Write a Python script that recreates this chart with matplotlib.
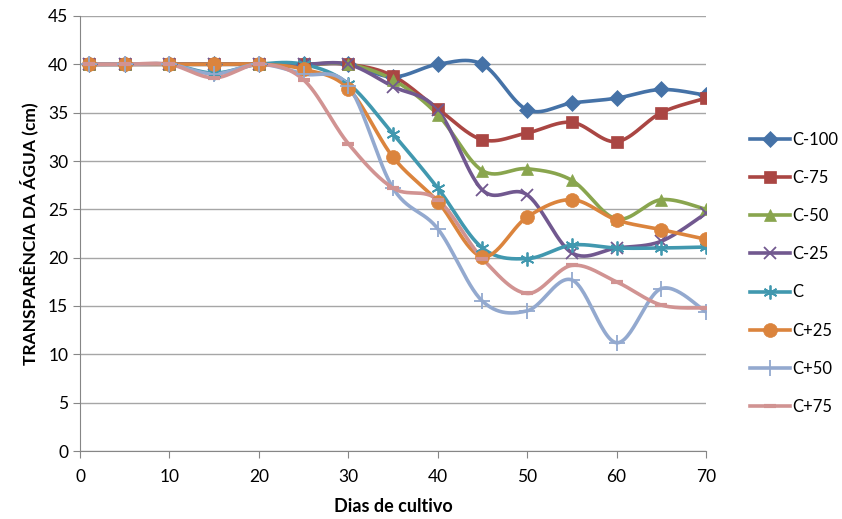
import numpy as np
import matplotlib.pyplot as plt
from matplotlib.lines import Line2D

plt.rcParams['font.family'] = ['Lato', 'DejaVu Sans']

dias = [1, 5, 10, 15, 20, 25, 30, 35, 40, 45, 50, 55, 60, 65, 70]

c_m100 = [40, 40, 40, 40, 40, 40, 40, 38.7, 40.0, 40.0, 35.3, 36.0, 36.5, 37.4, 36.8]
c_m75 = [40, 40, 40, 40, 40, 40, 40, 38.8, 35.4, 32.2, 32.9, 34.0, 32.0, 35.0, 36.5]
c_m50 = [40, 40, 40, 40, 40, 40, 40, 38.4, 34.8, 29.0, 29.2, 28.0, 24.0, 26.0, 25.0]
c_m25 = [40, 40, 40, 40, 40, 40, 40, 37.7, 35.3, 27.0, 26.5, 20.5, 21.0, 21.7, 24.6]
c_0 = [40, 40, 40, 39.1, 40, 40, 38.0, 32.8, 27.2, 21.0, 19.9, 21.3, 21.0, 21.0, 21.1]
c_p25 = [40, 40, 40, 40, 40, 39.5, 37.5, 30.4, 25.8, 20.1, 24.2, 26.0, 23.9, 22.9, 21.9]
c_p50 = [40, 40, 40, 39.0, 40, 39.0, 37.8, 27.2, 23.0, 15.5, 14.5, 17.7, 11.2, 16.8, 14.4]
c_p75 = [40, 40, 40, 38.6, 40, 38.4, 31.8, 27.2, 26.0, 19.9, 16.3, 19.2, 17.5, 15.1, 14.8]

nomes = ['C-100', 'C-75', 'C-50', 'C-25', 'C', 'C+25', 'C+50', 'C+75']
series = [c_m100, c_m75, c_m50, c_m25, c_0, c_p25, c_p50, c_p75]
cores = ['#4572A7', '#AA4643', '#89A54E', '#71588F', '#4198AF', '#DB843D', '#93A9CF', '#D19392']
asterisco = (6, 2, 0)
marcadores = ['D', 's', '^', 'x', asterisco, 'o', '+', '_']
tamanhos = [8, 9, 9, 9, 10, 10, 11, 9]


def suaviza(x, y, n=30):
    # curva Catmull-Rom passando pelos pontos (como a linha suavizada do Excel)
    p = np.column_stack([x, y]).astype(float)
    p = np.vstack([p[0], p, p[-1]])
    out = []
    t = np.linspace(0, 1, n)[:, None]
    for i in range(1, len(p) - 2):
        p0, p1, p2, p3 = p[i - 1], p[i], p[i + 1], p[i + 2]
        c1 = p1 + (p2 - p0) / 6
        c2 = p2 - (p3 - p1) / 6
        seg = ((1 - t) ** 3) * p1 + 3 * ((1 - t) ** 2) * t * c1 + 3 * (1 - t) * t ** 2 * c2 + t ** 3 * p2
        out.append(seg if i == 1 else seg[1:])
    out = np.vstack(out)
    return out[:, 0], out[:, 1]


fig = plt.figure(figsize=(8.42, 5.19), dpi=100)
ax = fig.add_axes([80 / 842, 68 / 519, 626 / 842, 435 / 519])

handles = []
for nome, vals, cor, mk, ms in zip(nomes, series, cores, marcadores, tamanhos):
    xs, ys = suaviza(dias, vals)
    ax.plot(xs, ys, color=cor, lw=2.6, solid_capstyle='round', zorder=2)
    mew = 1.3 if mk in ('x', '+', '_', asterisco) else 0.5
    if mk == '_':
        mew = 3
    ax.plot(dias, vals, ls='none', marker=mk, ms=ms, color=cor, mec=cor, mew=mew, zorder=3)
    handles.append(Line2D([], [], color=cor, lw=2.6, marker=mk, ms=ms, mec=cor, mew=mew))

ax.set_xlim(0, 70)
ax.set_ylim(0, 45)
ax.set_xticks(range(0, 71, 10))
ax.set_yticks(range(0, 46, 5))
ax.grid(axis='y', color='#A6A6A6', lw=1)
ax.set_axisbelow(True)
for lado in ['top', 'right']:
    ax.spines[lado].set_visible(False)
for lado in ['left', 'bottom']:
    ax.spines[lado].set_color('#868686')
ax.tick_params(axis='both', colors='#868686', labelcolor='black', labelsize=12.5, length=5, direction='out')
ax.tick_params(axis='x', pad=8)

ax.set_xlabel('Dias de cultivo', fontsize=13, fontweight='bold', labelpad=9)
ax.set_ylabel('TRANSPARÊNCIA DA ÁGUA (cm)', fontsize=12.5, fontweight='bold', labelpad=7)

fig.legend(handles, nomes, loc='upper left', bbox_to_anchor=(743 / 842, 1 - 125 / 519),
           frameon=False, fontsize=12, handlelength=2.4, labelspacing=1.33,
           handletextpad=0.15, borderaxespad=0)

fig.savefig('out.png', dpi=100)
